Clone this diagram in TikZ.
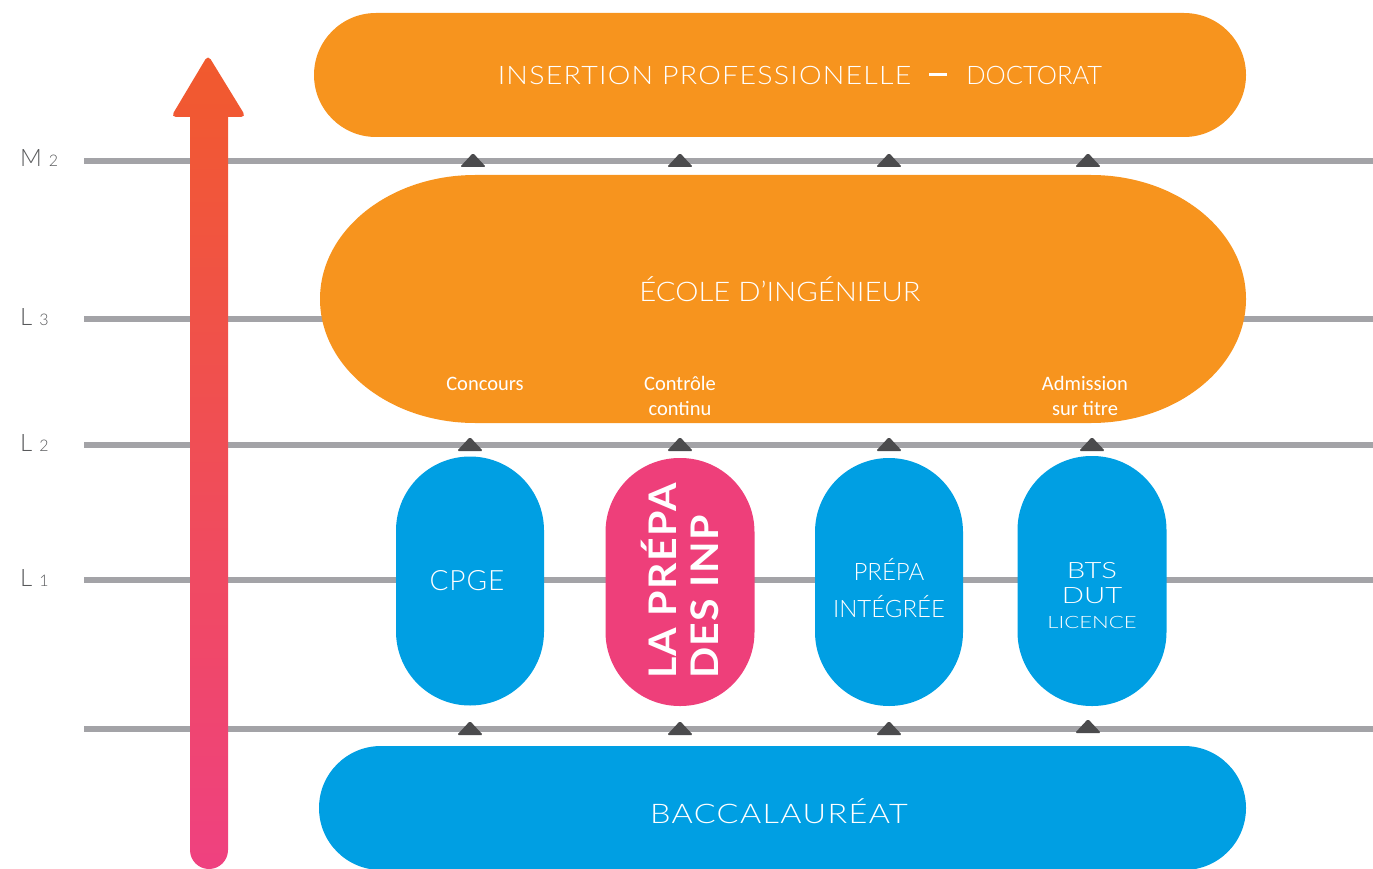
\documentclass[tikz,border=0pt]{standalone}
\usepackage{fontspec}
\setmainfont{Lato}
\newfontfamily\thinf{Lato Light}
\newfontfamily\boldf{Lato Bold}
\newfontfamily\calf{Carlito}
\definecolor{orangeF}{HTML}{F7941E}
\definecolor{blueB}{HTML}{009FE3}
\definecolor{pinkP}{HTML}{EE3F7A}
\definecolor{lineG}{HTML}{A3A3A7}
\definecolor{triD}{HTML}{4B4B4D}
\definecolor{labelG}{HTML}{58595B}
\definecolor{arrTop}{HTML}{F15A2D}
\definecolor{arrBot}{HTML}{EF4180}
\begin{document}
\begin{tikzpicture}[x=1pt,y=1pt,
  gline/.style={line width=6pt, draw=lineG},
  pill/.style={inner sep=0pt, outer sep=0pt, draw=none},
  title/.style={text=white, inner sep=0pt, align=center},
  note/.style={text=white, inner sep=0pt, align=center, font=\calf\fontsize{20.5}{25}\selectfont},
  level/.style={text=labelG, inner sep=0pt, anchor=base west},
  tri/.pic={\fill[triD, rounded corners=1.5pt] (-13,-6) -- (13,-6) -- (0,8) -- cycle;}
]
\useasboundingbox (0,0) rectangle (1373,-869);
\clip (0,0) rectangle (1373,-869);

% horizontal level lines
\draw[gline] (84,-161) -- (1373,-161);
\draw[gline] (84,-319) -- (1373,-319);
\draw[gline] (84,-445) -- (1373,-445);
\draw[gline] (84,-580) -- (1373,-580);
\draw[gline] (84,-729) -- (1373,-729);

% level labels
\node[level] (m2) at (20,-167) {\thinf\fontsize{24}{24}\selectfont M\hspace{7pt}\fontsize{16}{16}\selectfont 2};
\node[level] (l3) at (20,-325) {\thinf\fontsize{24}{24}\selectfont L\hspace{7pt}\fontsize{16}{16}\selectfont 3};
\node[level] (l2) at (20,-451) {\thinf\fontsize{24}{24}\selectfont L\hspace{7pt}\fontsize{16}{16}\selectfont 2};
\node[level] (l1) at (20,-586) {\thinf\fontsize{24}{24}\selectfont L\hspace{7pt}\fontsize{16}{16}\selectfont 1};

% big gradient arrow
\shade[top color=arrTop, bottom color=arrBot]
  (190,-400) -- (190,-117) [rounded corners=5] -- (171,-117) -- (208,-55) -- (246,-117) [sharp corners] -- (228,-117)
  -- (228,-850) arc[start angle=0, end angle=-180, radius=19] -- cycle;

% top box
\node[pill, fill=orangeF, rounded corners=62, minimum width=932, minimum height=124] (top) at (780,-75) {};
\node[title, font=\thinf\fontsize{25.5}{30}\selectfont] (toptxt) at (800,-75)
  {\scalebox{1.12}[1]{\addfontfeature{LetterSpace=4.3}INSERTION PROFESSIONELLE}\hspace{18pt}\rule[0.33em]{18pt}{2.2pt}\hspace{19pt}DOCTORAT};

% ecole box
\fill[orangeF] (475,-175) -- (1091,-175) arc[start angle=90, end angle=-90, x radius=155, y radius=124]
  -- (475,-423) arc[start angle=270, end angle=90, x radius=155, y radius=124] -- cycle;
\node[title, font=\thinf\fontsize{27}{30}\selectfont] (ecole) at (780,-289) {\scalebox{1.085}[1]{ÉCOLE D’INGÉNIEUR}};
\node[note] (concours) at (485,-384) {Concours};
\node[note] (controle) at (680,-396) {Contrôle\\continu};
\node[note] (admission) at (1085,-396) {Admission\\sur titre};

% middle boxes
\node[pill, fill=blueB, rounded corners=74, minimum width=148, minimum height=249] (cpge) at (470,-581) {};
\node[pill, fill=pinkP, rounded corners=74, minimum width=149, minimum height=248] (prepainp) at (680,-582) {};
\node[pill, fill=blueB, rounded corners=74, minimum width=148, minimum height=248] (integ) at (889,-582) {};
\node[pill, fill=blueB, rounded corners=74, minimum width=149, minimum height=250] (bts) at (1092,-581) {};

\node[title, font=\thinf\fontsize{28}{30}\selectfont\addfontfeature{LetterSpace=3.6}] (cpgetxt) at (467,-581) {CPGE};
\node[title, rotate=90, align=left, font=\boldf\fontsize{38}{42}\selectfont\addfontfeature{LetterSpace=3.6}] (inptxt) at (680,-581)
  {\scalebox{1.08}[1]{LA PRÉPA}\\\scalebox{1.08}[1]{DES INP}};
\node[title, font=\thinf\fontsize{24}{37}\selectfont] (integtxt) at (889,-588) {PRÉPA\\INTÉGRÉE};
\node[title, font=\thinf\fontsize{22.5}{25}\selectfont] (btstxt) at (1092,-596)
  {\scalebox{1.3}[1]{BTS}\\\scalebox{1.3}[1]{DUT}\\{\fontsize{17}{20}\selectfont\scalebox{1.3}[1]{LICENCE}}};

% bottom box
\node[pill, fill=blueB, rounded corners=62, minimum width=927, minimum height=124] (bac) at (782.5,-808) {};
\node[title, font=\thinf\fontsize{27}{30}\selectfont\addfontfeature{LetterSpace=4.3}] (bactxt) at (779,-811) {\scalebox{1.2}[1]{BACCALAURÉAT}};

% triangles
\pic at (473,-161) {tri}; \pic at (680,-161) {tri}; \pic at (889,-161) {tri}; \pic at (1088,-161) {tri};
\pic at (470,-445) {tri}; \pic at (680,-445) {tri}; \pic at (889,-445) {tri}; \pic at (1092,-445) {tri};
\pic at (470,-729) {tri}; \pic at (680,-729) {tri}; \pic at (889,-729) {tri}; \pic at (1088,-727) {tri};
\end{tikzpicture}
\end{document}
